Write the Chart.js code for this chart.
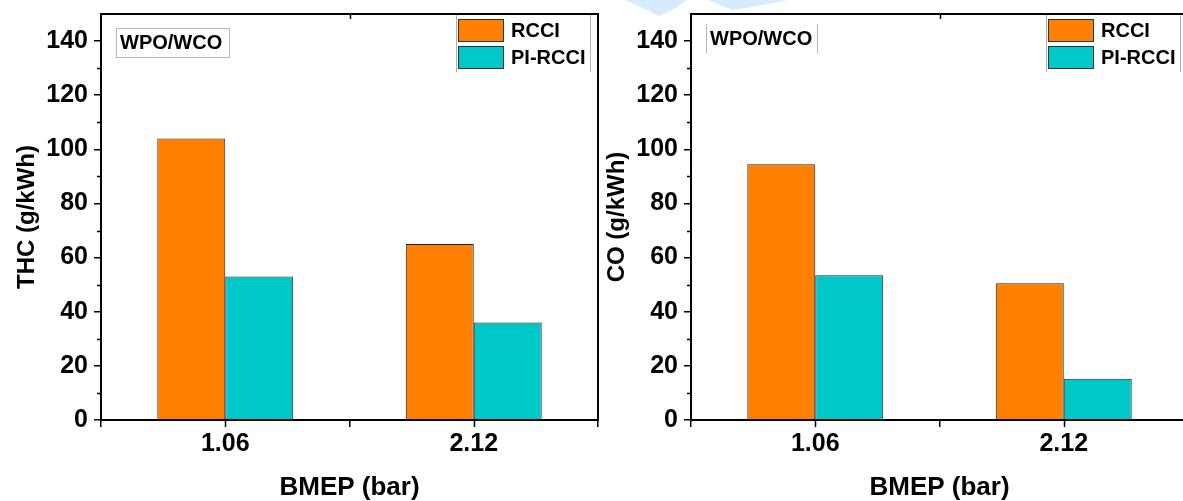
<!DOCTYPE html>
<html>
<head>
<meta charset="utf-8">
<title>THC and CO emissions vs BMEP</title>
<script src="https://cdn.jsdelivr.net/npm/chart.js@4.4.1/dist/chart.umd.min.js"></script>
<style>
  html, body { margin: 0; padding: 0; background: #fff; overflow: hidden; }
  body { width: 1183px; height: 501px; position: relative; }
  canvas { position: absolute; top: 0; }
  #thcChart { left: 0; }
  #coChart { left: 590px; }
  .swoosh { position: absolute; background: #d6ebfb; }
</style>
</head>
<body>
<canvas id="thcChart" width="600" height="501"></canvas>
<canvas id="coChart" width="600" height="501"></canvas>
<div class="swoosh" style="left:625px;top:0;width:62px;height:16px;clip-path:polygon(0 0,100% 0,80% 55%,55% 100%,40% 70%);"></div>
<div class="swoosh" style="left:708px;top:0;width:80px;height:10px;clip-path:polygon(0 0,100% 0,62% 60%,30% 100%);"></div>
<script>
// BMEP operating points and emissions (g/kWh)
const bmep = ['1.06', '2.12'];
const thcRcci = [104, 65];
const thcPiRcci = [53, 36];
const coRcci = [94.5, 50.5];
const coPiRcci = [53.5, 15.2];

const seriesNames = ['RCCI', 'PI-RCCI'];
const seriesColors = ['#ff8000', '#00c8c8'];
const fuelNote = 'WPO/WCO';

const Y_MAX = 150;
const Y_STEP = 20;
const FONT = '"Liberation Sans", Arial, sans-serif';

function line(ctx, x1, y1, x2, y2) {
    ctx.beginPath();
    ctx.moveTo(x1, y1);
    ctx.lineTo(x2, y2);
    ctx.stroke();
}

// closes the frame and adds the minor / extra tick marks
const frameTicks = {
    id: 'frameTicks',
    afterDraw(chart) {
        const { ctx, chartArea: a, scales: { x, y } } = chart;
        ctx.save();
        ctx.strokeStyle = '#000';
        ctx.lineWidth = 2;
        ctx.beginPath();
        ctx.moveTo(a.left - 1, a.top);
        ctx.lineTo(a.right, a.top);
        ctx.lineTo(a.right, a.bottom + 1);
        ctx.stroke();

        ctx.lineWidth = 1.5;
        for (let v = Y_STEP / 2; v < Y_MAX; v += Y_STEP) {
            const py = Math.round(y.getPixelForValue(v)) + 0.5;
            line(ctx, a.left - 4, py, a.left, py);
        }
        bmep.forEach((_, i) => {
            const px = Math.round(x.getPixelForValue(i)) + 0.5;
            line(ctx, px, a.bottom, px, a.bottom + 7);
        });
        const mid = Math.round((x.getPixelForValue(0) + x.getPixelForValue(1)) / 2) + 0.5;
        line(ctx, mid, a.top, mid, a.top + 5);
        ctx.restore();
    },
};

// legend box in the upper right corner and the fuel label in the upper left
const panelLabels = {
    id: 'panelLabels',
    afterDraw(chart, _args, opts) {
        const { ctx, chartArea: a } = chart;
        ctx.save();

        // fuel note
        const nx = a.left + 15;
        ctx.strokeStyle = '#b8b8b8';
        ctx.lineWidth = 1;
        if (opts.noteFrame) {
            ctx.strokeRect(nx + 0.5, opts.noteTop + 0.5, 113, opts.noteBottom - opts.noteTop);
        } else {
            line(ctx, nx + 0.5, opts.noteTop, nx + 0.5, opts.noteBottom);
            line(ctx, nx + 111.5, opts.noteTop, nx + 111.5, opts.noteBottom);
        }
        ctx.fillStyle = '#000';
        ctx.font = `bold 20px ${FONT}`;
        ctx.textBaseline = 'middle';
        ctx.fillText(fuelNote, nx + 4, (opts.noteTop + opts.noteBottom) / 2 + 1);

        // legend
        const lx = a.right - 142;
        const top = a.top + 1;
        ctx.fillStyle = '#fff';
        ctx.fillRect(lx, top, 135, 56);
        ctx.strokeStyle = '#b0b0b0';
        line(ctx, lx + 0.5, top, lx + 0.5, top + 57);
        line(ctx, lx + 134.5, top, lx + 134.5, top + 57);
        chart.data.datasets.forEach((ds, i) => {
            const sy = a.top + 5 + i * 27;
            ctx.fillStyle = ds.backgroundColor;
            ctx.fillRect(lx + 2, sy, 45, 22);
            ctx.strokeStyle = '#333';
            ctx.strokeRect(lx + 2.5, sy + 0.5, 45, 22);
            ctx.fillStyle = '#000';
            ctx.font = `bold 20px ${FONT}`;
            ctx.textBaseline = 'middle';
            ctx.fillText(ds.label, lx + 55, sy + 12);
        });
        ctx.restore();
    },
};

function makeChart(canvasId, yTitle, rcci, piRcci, note) {
    const values = [rcci, piRcci];
    return new Chart(document.getElementById(canvasId), {
        type: 'bar',
        data: {
            labels: bmep,
            datasets: seriesNames.map((name, i) => ({
                label: name,
                data: values[i],
                backgroundColor: seriesColors[i],
                borderColor: '#222',
                borderWidth: 1,
                categoryPercentage: 0.547,
                barPercentage: 1,
            })),
        },
        options: {
            responsive: false,
            animation: false,
            layout: { padding: { top: 14, right: 2, left: 0, bottom: 0 } },
            plugins: {
                legend: { display: false },
                tooltip: { enabled: false },
                panelLabels: note,
            },
            scales: {
                x: {
                    offset: true,
                    grid: { display: true, drawOnChartArea: false, drawTicks: true, tickLength: 7, tickColor: '#000', lineWidth: 1.5 },
                    border: { color: '#000', width: 2 },
                    ticks: { color: '#000', font: { family: FONT, size: 25, weight: 'bold' }, padding: 2, maxRotation: 0 },
                    title: { display: true, text: 'BMEP (bar)', color: '#000', font: { family: FONT, size: 26, weight: 'bold', lineHeight: 1 }, padding: { top: 0, bottom: 0 } },
                    afterFit(s) { s.height = 81; },
                },
                y: {
                    min: 0,
                    max: Y_MAX,
                    grid: { display: true, drawOnChartArea: false, drawTicks: true, tickLength: 7, tickColor: '#000', lineWidth: 1.5 },
                    border: { color: '#000', width: 2 },
                    ticks: { stepSize: Y_STEP, includeBounds: false, color: '#000', font: { family: FONT, size: 25, weight: 'bold' }, padding: 6 },
                    title: { display: true, text: yTitle, color: '#000', font: { family: FONT, size: 24, weight: 'bold' }, padding: { top: 13, bottom: 0 } },
                    afterFit(s) {
                        s.width = 101;
                        // plot edges are set by the layout padding alone
                        s.paddingTop = 0;
                        s.paddingBottom = 0;
                    },
                },
            },
        },
        plugins: [frameTicks, panelLabels],
    });
}

makeChart('thcChart', 'THC (g/kWh)', thcRcci, thcPiRcci, { noteTop: 28, noteBottom: 57, noteFrame: true });
makeChart('coChart', 'CO (g/kWh)', coRcci, coPiRcci, { noteTop: 24, noteBottom: 53, noteFrame: false });
</script>
</body>
</html>
